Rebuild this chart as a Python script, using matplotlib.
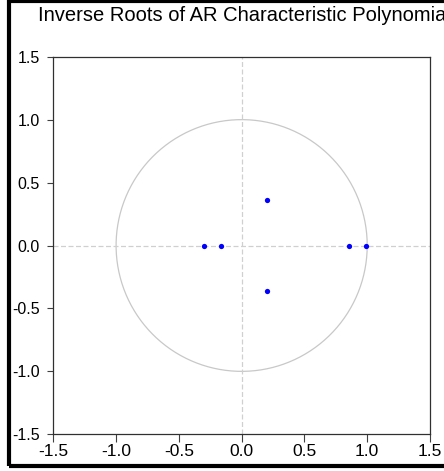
import numpy as np
import matplotlib.pyplot as plt
from matplotlib.patches import Rectangle

plt.rcParams['font.family'] = ['Liberation Sans', 'DejaVu Sans']
plt.rcParams['axes.unicode_minus'] = False

# inverse roots (real, imaginary)
root_re = [-0.30, -0.165, 0.205, 0.205, 0.855, 0.993]
root_im = [0.0, 0.0, 0.36, -0.36, 0.0, 0.0]

ticks = [-1.5, -1.0, -0.5, 0.0, 0.5, 1.0, 1.5]
tick_labels = ['-1.5', '-1.0', '-0.5', '0.0', '0.5', '1.0', '1.5']

fig = plt.figure(figsize=(4.44, 4.71), dpi=100)
ax = fig.add_axes([53.3 / 444, 1 - 434.3 / 471, 376.7 / 444, 377.6 / 471])

# unit circle and dashed zero lines
theta = np.linspace(0, 2 * np.pi, 400)
ax.plot(np.cos(theta), np.sin(theta), color='#c8c8c8', lw=0.9)
ax.axhline(0, color='#d0d0d0', lw=0.9, ls=(0, (4, 2)))
ax.axvline(0, color='#d0d0d0', lw=0.9, ls=(0, (4, 2)))

ax.plot(root_re, root_im, 'o', color='#0000ff', markersize=3.8, markeredgewidth=0)

ax.set_xlim(-1.5, 1.5)
ax.set_ylim(-1.5, 1.5)
ax.set_xticks(ticks)
ax.set_xticklabels(tick_labels)
ax.set_yticks(ticks)
ax.set_yticklabels(tick_labels)
ax.tick_params(axis='x', direction='out', length=5.5, width=0.8, labelsize=12.5, pad=1.5,
               colors='#404040', labelcolor='black')
ax.tick_params(axis='y', direction='out', length=4.5, width=0.8, labelsize=11.5, pad=5,
               colors='#404040', labelcolor='black')
for s in ax.spines.values():
    s.set_color('#303030')
    s.set_linewidth(0.9)

# title (cut off at right edge like the reference)
fig.text(37.5 / 444, 1 - 21 / 471, 'Inverse Roots of AR Characteristic Polynomial',
         fontsize=14.5, ha='left', va='baseline')

# thick outer frame (right side runs off the image)
fig.patches.append(Rectangle((9 / 444, 1 - 465.5 / 471), 1.2, 464.5 / 471,
                             transform=fig.transFigure, fill=False,
                             edgecolor='black', lw=3))

plt.savefig('out.png', dpi=100)
